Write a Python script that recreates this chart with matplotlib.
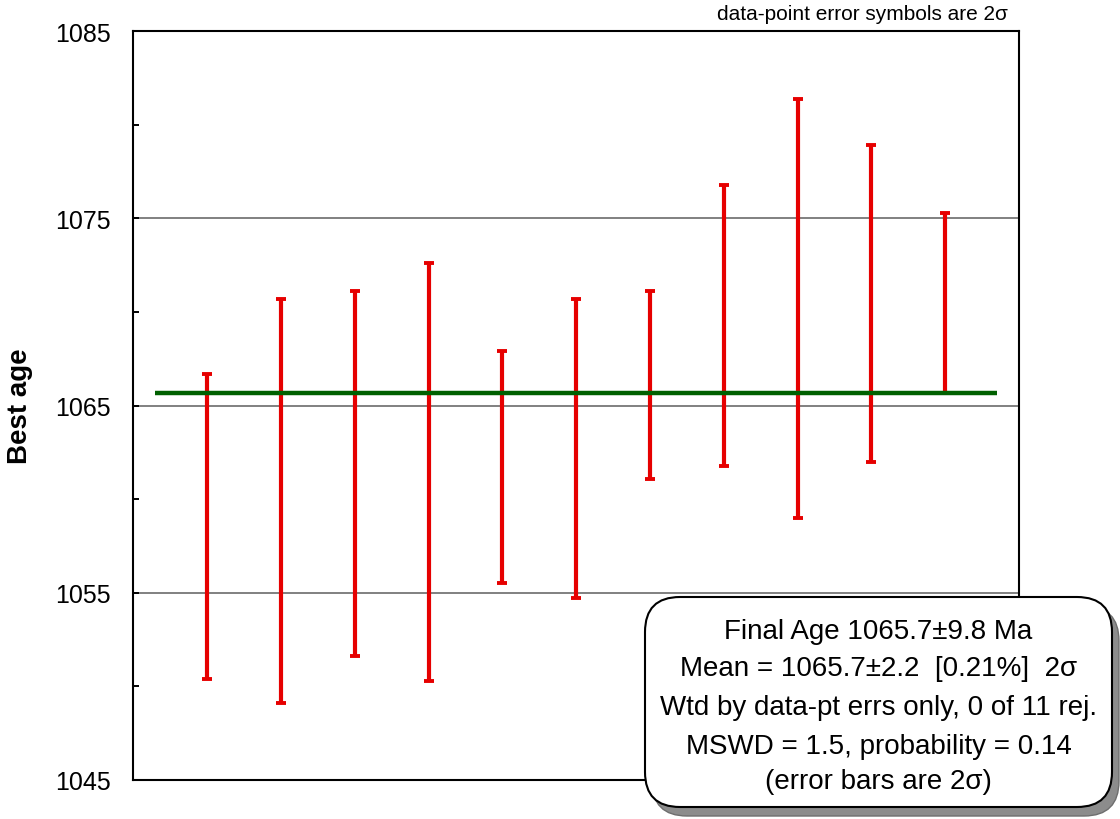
import matplotlib.pyplot as plt
import numpy as np
from matplotlib.patches import FancyBboxPatch

plt.rcParams["font.family"] = ["Liberation Sans", "DejaVu Sans"]

# ─── Data (2σ error bars) ────────────────────────────────────────────────────
spot = np.arange(1, 12)
age_low = [1050.4, 1049.1, 1051.6, 1050.3, 1055.5, 1054.7, 1061.1, 1061.8, 1059.0, 1062.0, 1065.7]
age_high = [1066.7, 1070.7, 1071.1, 1072.6, 1067.9, 1070.7, 1071.1, 1076.8, 1081.4, 1078.9, 1075.3]
mean_age = 1065.7

y_major = [1045, 1055, 1065, 1075, 1085]
y_minor = [1050, 1060, 1070, 1080]

box_lines = [
    "Final Age 1065.7±9.8 Ma",
    "Mean = 1065.7±2.2  [0.21%]  2σ",
    "Wtd by data-pt errs only, 0 of 11 rej.",
    "MSWD = 1.5, probability = 0.14",
    "(error bars are 2σ)",
]

# ─── Figure ───────────────────────────────────────────────────────────────────
fig = plt.figure(figsize=(11.2, 8.2), dpi=100)
ax = fig.add_axes([0.119, 0.0476, 0.7908, 0.913])

low = np.array(age_low)
high = np.array(age_high)
mid = (low + high) / 2
half = (high - low) / 2

ax.errorbar(spot, mid, yerr=half, fmt="none", ecolor="#e60000",
            elinewidth=3.0, capsize=3.8, capthick=2.8, zorder=3)
ax.hlines(mean_age, 0.3, 11.7, color="#006000", linewidth=3.2, zorder=4)

ax.set_xlim(0, 12)
ax.set_ylim(1045, 1085)
ax.set_xticks([])
ax.set_yticks(y_major)
ax.set_yticks(y_minor, minor=True)
ax.tick_params(axis="y", which="both", direction="in", length=4, width=1.4,
               labelsize=18, pad=16)
ax.grid(True, axis="y", which="major", color="#808080", linewidth=1.4, zorder=1)
ax.set_axisbelow(True)
for s in ax.spines.values():
    s.set_linewidth(1.5)

ax.set_ylabel("Best age", fontsize=20, fontweight="bold")
ax.yaxis.set_label_coords(-0.113, 0.5)

fig.text(0.9, 0.982, "data-point error symbols are 2σ", fontsize=15,
         ha="right", va="center")

# ─── Result box with drop shadow (inch coordinates) ───────────────────────────
tr = fig.dpi_scale_trans
bx, by, bw, bh = 6.45, 0.12, 4.67, 2.10
shadow = FancyBboxPatch((bx + 0.07, by - 0.09), bw, bh,
                        boxstyle="round,pad=0,rounding_size=0.35",
                        transform=tr, facecolor="#8c8c8c", edgecolor="#6e6e6e",
                        linewidth=1.0, zorder=5)
box = FancyBboxPatch((bx, by), bw, bh,
                     boxstyle="round,pad=0,rounding_size=0.35",
                     transform=tr, facecolor="white", edgecolor="black",
                     linewidth=1.5, zorder=6)
fig.add_artist(shadow)
fig.add_artist(box)

line_y = [1.88, 1.51, 1.12, 0.73, 0.38]
for txt, yy in zip(box_lines, line_y):
    fig.text(bx + bw / 2, yy, txt, transform=tr, fontsize=20,
             ha="center", va="center", zorder=7)

fig.savefig("out.png", dpi=100)
